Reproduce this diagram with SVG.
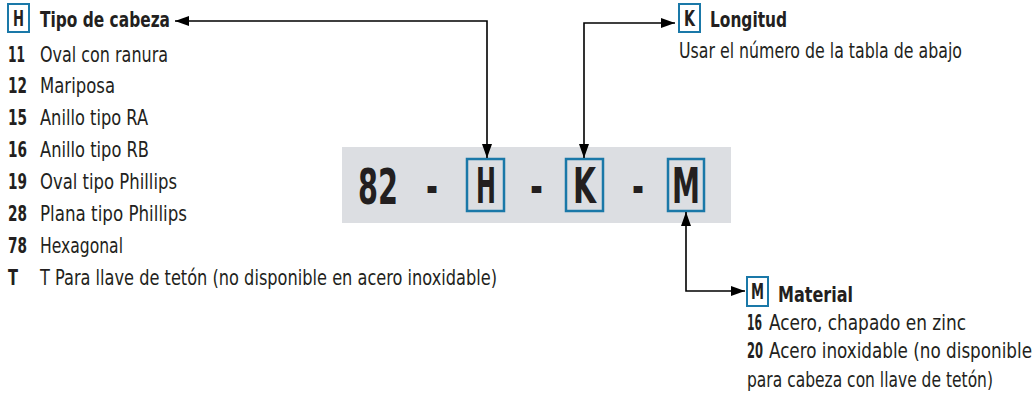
<svg xmlns="http://www.w3.org/2000/svg" width="1035" height="403" viewBox="0 0 1035 403">
<defs>
<marker id="ah" viewBox="0 0 14 10" refX="14" refY="5" markerWidth="14" markerHeight="10" markerUnits="userSpaceOnUse" orient="auto-start-reverse">
<path d="M0,0 L14,5 L0,10 Z" fill="#000"/>
</marker>
</defs>
<style>
text{font-family:"Liberation Sans Narrow","DejaVu Sans Condensed","Liberation Sans",sans-serif;fill:#231f20;}
.t{font-size:21px;}
.b{font-weight:bold;}
.big{font-size:50px;font-weight:bold;}
.sbox{fill:#fff;stroke:#1a78a8;stroke-width:2;}
.bbox{fill:none;stroke:#1a78a8;stroke-width:2.5;}
.conn{fill:none;stroke:#000;stroke-width:1.6;marker-start:url(#ah);marker-end:url(#ah);}
</style>
<rect width="1035" height="403" fill="#fff"/>

<g id="code">
<rect x="342" y="147" width="389" height="76" fill="#dcdee2"/>
<text class="big" x="358" y="204" textLength="40" lengthAdjust="spacingAndGlyphs">82</text>
<text class="big" x="426" y="204" textLength="12" lengthAdjust="spacingAndGlyphs">-</text>
<text class="big" x="530" y="204" textLength="13" lengthAdjust="spacingAndGlyphs">-</text>
<text class="big" x="632" y="204" textLength="12" lengthAdjust="spacingAndGlyphs">-</text>
<rect class="bbox" x="467" y="159" width="37" height="52"/>
<text class="big" x="476" y="203" textLength="20" lengthAdjust="spacingAndGlyphs">H</text>
<rect class="bbox" x="566" y="159" width="37" height="52"/>
<text class="big" x="573" y="203" textLength="23" lengthAdjust="spacingAndGlyphs">K</text>
<rect class="bbox" x="668" y="159" width="36" height="52"/>
<text class="big" x="672" y="203" textLength="28" lengthAdjust="spacingAndGlyphs">M</text>
</g>

<g id="head">
<rect class="sbox" x="8" y="4" width="21" height="28"/>
<text class="t b" x="13" y="26" textLength="11" lengthAdjust="spacingAndGlyphs">H</text>
<text class="t b" x="40" y="27" textLength="130" lengthAdjust="spacingAndGlyphs">Tipo de cabeza</text>
<text class="t b" x="8" y="61.5" textLength="17" lengthAdjust="spacingAndGlyphs">11</text>
<text class="t" x="40" y="61.5" textLength="128" lengthAdjust="spacingAndGlyphs">Oval con ranura</text>
<text class="t b" x="8" y="93" textLength="19" lengthAdjust="spacingAndGlyphs">12</text>
<text class="t" x="40" y="93" textLength="75" lengthAdjust="spacingAndGlyphs">Mariposa</text>
<text class="t b" x="8" y="124.5" textLength="19" lengthAdjust="spacingAndGlyphs">15</text>
<text class="t" x="40" y="124.5" textLength="108" lengthAdjust="spacingAndGlyphs">Anillo tipo RA</text>
<text class="t b" x="8" y="156.5" textLength="19" lengthAdjust="spacingAndGlyphs">16</text>
<text class="t" x="40" y="156.5" textLength="109" lengthAdjust="spacingAndGlyphs">Anillo tipo RB</text>
<text class="t b" x="8" y="188.5" textLength="19" lengthAdjust="spacingAndGlyphs">19</text>
<text class="t" x="40" y="188.5" textLength="137" lengthAdjust="spacingAndGlyphs">Oval tipo Phillips</text>
<text class="t b" x="8" y="220.5" textLength="19" lengthAdjust="spacingAndGlyphs">28</text>
<text class="t" x="40" y="220.5" textLength="147" lengthAdjust="spacingAndGlyphs">Plana tipo Phillips</text>
<text class="t b" x="8" y="252.5" textLength="19" lengthAdjust="spacingAndGlyphs">78</text>
<text class="t" x="40" y="252.5" textLength="83" lengthAdjust="spacingAndGlyphs">Hexagonal</text>
<text class="t b" x="8" y="285" textLength="10" lengthAdjust="spacingAndGlyphs">T</text>
<text class="t" x="40" y="285" textLength="457" lengthAdjust="spacingAndGlyphs">T Para llave de tetón (no disponible en acero inoxidable)</text>
</g>

<g id="length">
<rect class="sbox" x="679" y="4" width="21" height="28"/>
<text class="t b" x="684" y="26" textLength="11" lengthAdjust="spacingAndGlyphs">K</text>
<text class="t b" x="710" y="27" textLength="77" lengthAdjust="spacingAndGlyphs">Longitud</text>
<text class="t" x="679" y="58" textLength="283" lengthAdjust="spacingAndGlyphs">Usar el número de la tabla de abajo</text>
</g>

<g id="material">
<rect class="sbox" x="747" y="277" width="21" height="29"/>
<text class="t b" x="751" y="299" textLength="13" lengthAdjust="spacingAndGlyphs">M</text>
<text class="t b" x="778" y="302" textLength="75" lengthAdjust="spacingAndGlyphs">Material</text>
<text class="t b" x="747" y="330" textLength="15" lengthAdjust="spacingAndGlyphs">16</text>
<text class="t" x="769" y="330" textLength="197" lengthAdjust="spacingAndGlyphs">Acero, chapado en zinc</text>
<text class="t b" x="747" y="358" textLength="16" lengthAdjust="spacingAndGlyphs">20</text>
<text class="t" x="769" y="358" textLength="263" lengthAdjust="spacingAndGlyphs">Acero inoxidable (no disponible</text>
<text class="t" x="747" y="387" textLength="246" lengthAdjust="spacingAndGlyphs">para cabeza con llave de tetón)</text>
</g>

<g id="connectors">
<path class="conn" d="M487,158 L487,21 L175,21"/>
<path class="conn" d="M584,158 L584,23 L675,23"/>
<path class="conn" d="M686,212 L686,291 L745,291"/>
</g>
</svg>
